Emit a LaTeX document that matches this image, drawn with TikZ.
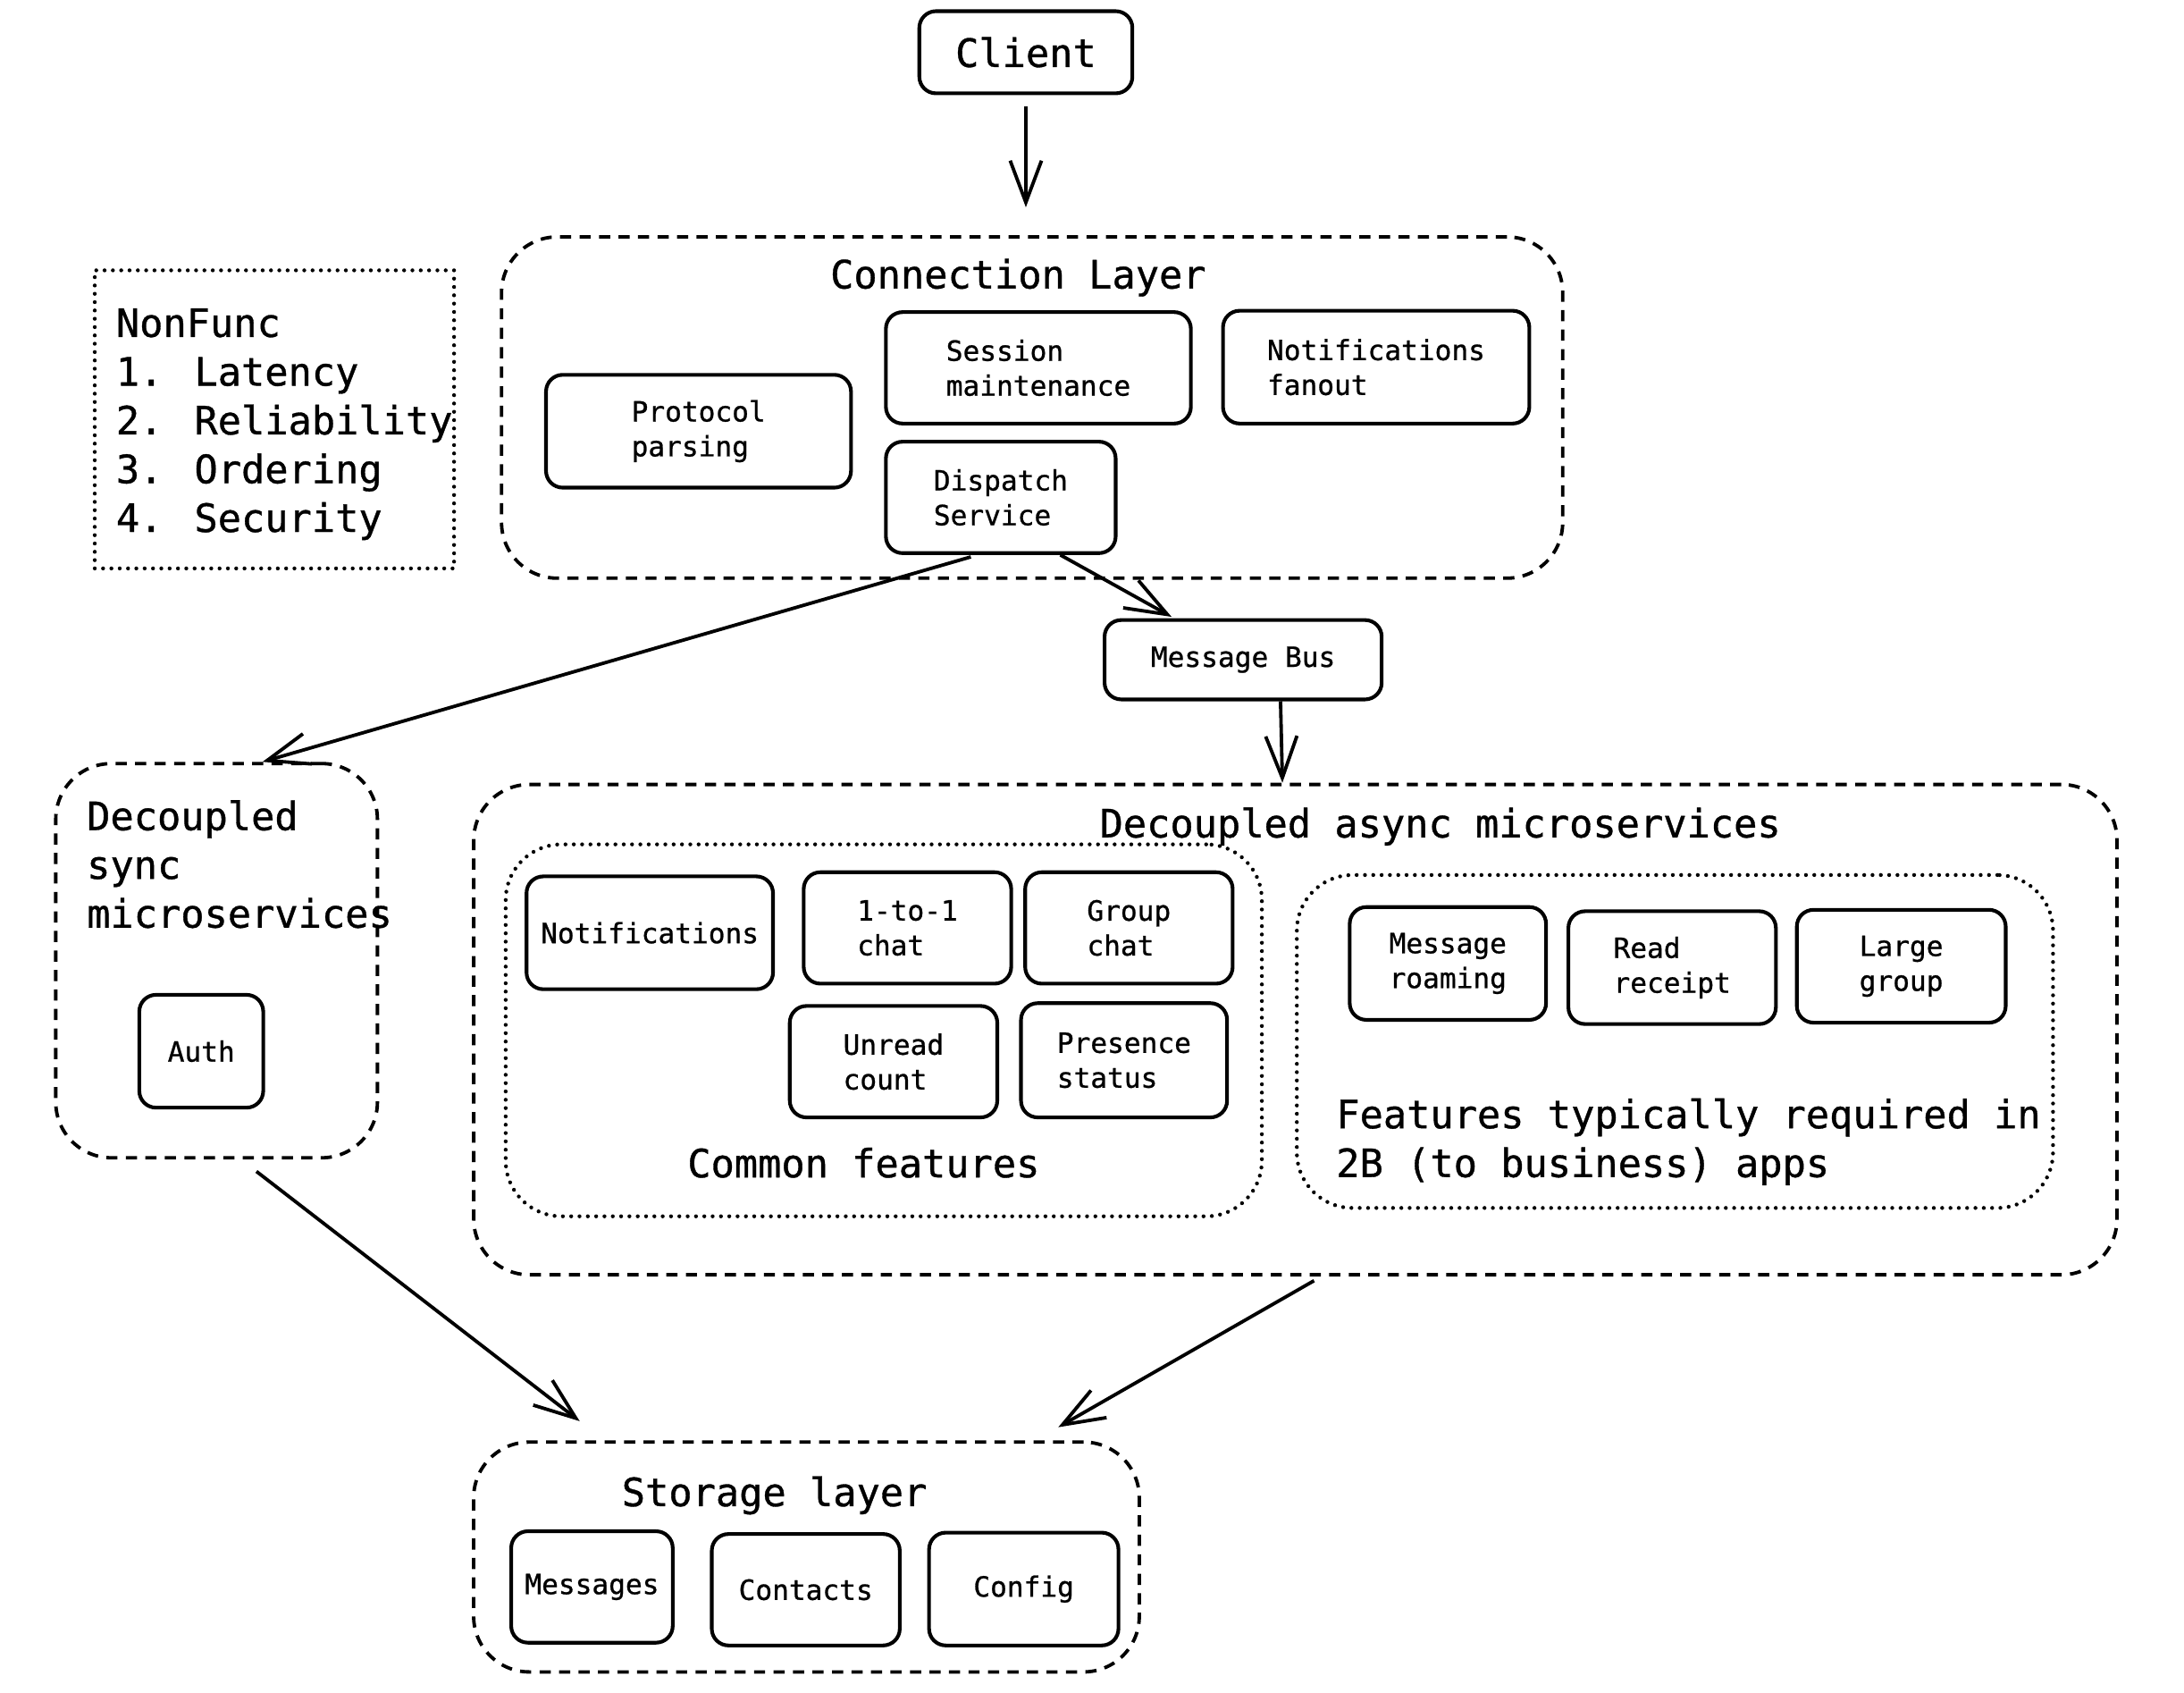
\documentclass[tikz,border=0pt]{standalone}
\usepackage{fontspec}
\setmainfont[FakeBold=0.8]{DejaVu Sans Mono}
\usepackage{tikz}
\usetikzlibrary{arrows.meta}
\newcommand{\bigtxt}{\fontsize{15.94}{19.92}\selectfont}
\newcommand{\smalltxt}{\fontsize{11.38}{14.23}\selectfont}
\tikzstyle{line} = [draw, -{Straight Barb[length=0.6cm,width=0.45cm]}, line width=1.4pt]
\tikzstyle{blockbox} = [draw, rounded corners=0.24cm, line width=1.5pt, align=left, font=\smalltxt]
\tikzstyle{dashlayer} = [draw, rounded corners=0.8cm, line width=1.4pt, dash pattern=on 0.16cm off 0.12cm]
\tikzstyle{dotgroup} = [draw, rounded corners=0.8cm, line width=1.6pt, line cap=round, dash pattern=on 0pt off 3.4pt]
\tikzstyle{title} = [font=\bigtxt, anchor=base, inner sep=0pt]

\begin{document}
\begin{tikzpicture}[x=0.02cm, y=-0.02cm]
	\tikzstyle{every node}=[font=\smalltxt]
	\useasboundingbox (0,0) rectangle (1568,1215);

	% ------------------- Client + connection layer ------------------- %
	\node[blockbox, font=\bigtxt, minimum width=3.06cm, minimum height=1.18cm] (client) at (736.5,37.5) {Client};

	\node[dashlayer, minimum width=15.24cm, minimum height=4.9cm] (conn) at (741,292.5) {};
	\node[title] (conntitle) at (731,207) {Connection Layer};

	\node[blockbox, minimum width=4.38cm, minimum height=1.62cm] (protocol) at (501.5,309.5) {Protocol\\parsing};
	\node[blockbox, minimum width=4.38cm, minimum height=1.6cm] (session) at (745.5,264) {Session\\maintenance};
	\node[blockbox, minimum width=4.4cm, minimum height=1.62cm] (fanout) at (988,263.5) {Notifications\\fanout};
	\node[blockbox, minimum width=3.3cm, minimum height=1.6cm] (dispatch) at (718.5,357) {Dispatch\\Service};

	% ------------------- Non functional list ------------------- %
	\node[draw, line width=1.6pt, line cap=round, dash pattern=on 0pt off 3.4pt, minimum width=5.16cm, minimum height=4.28cm] (nonfunc) at (197,301) {};
	\node[font=\bigtxt, align=left, anchor=north west, inner sep=0pt] (nonfunctext) at (83,221) {NonFunc\\1. Latency\\2. Reliability\\3. Ordering\\4. Security};

	\node[blockbox, minimum width=3.98cm, minimum height=1.14cm] (bus) at (892.5,473.5) {Message Bus};

	% ------------------- Sync microservices ------------------- %
	\node[dashlayer, minimum width=4.62cm, minimum height=5.66cm] (sync) at (155.5,689.5) {};
	\node[font=\bigtxt, align=left, anchor=north west, inner sep=0pt] (synctitle) at (62,574) {Decoupled\\sync\\microservices};
	\node[blockbox, minimum width=1.78cm, minimum height=1.62cm] (auth) at (144.5,754.5) {Auth};

	% ------------------- Async microservices ------------------- %
	\node[dashlayer, minimum width=23.6cm, minimum height=7.04cm] (async) at (930,739) {};
	\node[title] (asynctitle) at (1034,601) {Decoupled async microservices};

	\node[dotgroup, minimum width=10.86cm, minimum height=5.34cm] (common) at (634.5,739.5) {};
	\node[title] (commontitle) at (620,845) {Common features};
	\node[blockbox, minimum width=3.54cm, minimum height=1.62cm] (notif) at (466.5,669.5) {Notifications};
	\node[blockbox, minimum width=2.98cm, minimum height=1.6cm] (onetoone) at (651.5,666) {1-to-1\\chat};
	\node[blockbox, minimum width=2.98cm, minimum height=1.6cm] (groupchat) at (810.5,666) {Group\\chat};
	\node[blockbox, minimum width=2.98cm, minimum height=1.6cm] (unread) at (641.5,762) {Unread\\count};
	\node[blockbox, minimum width=2.96cm, minimum height=1.64cm] (presence) at (807,761) {Presence\\status};

	\node[dotgroup, minimum width=10.86cm, minimum height=4.78cm] (tob) at (1202.5,747.5) {};
	\node[font=\bigtxt, align=left, anchor=north west, inner sep=0pt] (tobtitle) at (959,788) {Features typically required in\\2B (to business) apps};
	\node[blockbox, minimum width=2.82cm, minimum height=1.62cm] (roaming) at (1039.5,691.5) {Message\\roaming};
	\node[blockbox, minimum width=2.98cm, minimum height=1.62cm] (receipt) at (1200.5,694.5) {Read\\receipt};
	\node[blockbox, minimum width=3.0cm, minimum height=1.62cm] (large) at (1365,693.5) {Large\\group};

	% ------------------- Storage layer ------------------- %
	\node[dashlayer, minimum width=9.56cm, minimum height=3.3cm] (storage) at (579,1117.5) {};
	\node[title] (storagetitle) at (556,1081) {Storage layer};
	\node[blockbox, minimum width=2.32cm, minimum height=1.6cm] (messages) at (425,1139) {Messages};
	\node[blockbox, minimum width=2.7cm, minimum height=1.6cm] (contacts) at (578.5,1141) {Contacts};
	\node[blockbox, minimum width=2.72cm, minimum height=1.62cm] (config) at (735,1140.5) {Config};

	% ------------------- Arrows ------------------- %
	\draw[line, shorten <=0.16cm, shorten >=0.4cm] (client.south) -- (client.south |- conn.north);
	\draw[line, shorten >=0.04cm] (dispatch.-44) -- (bus.149);
	\draw[line, shorten <=0.1cm] (dispatch.-112) -- (sync.77);
	\draw[line] (bus.-48) -- (async.93);
	\draw[line, shorten <=0.28cm, shorten >=0.45cm] (sync.-83) -- (storage.150);
	\draw[line, shorten <=0.12cm, shorten >=0.38cm] (async.-84) -- (storage.27.5);

\end{tikzpicture}
\end{document}
